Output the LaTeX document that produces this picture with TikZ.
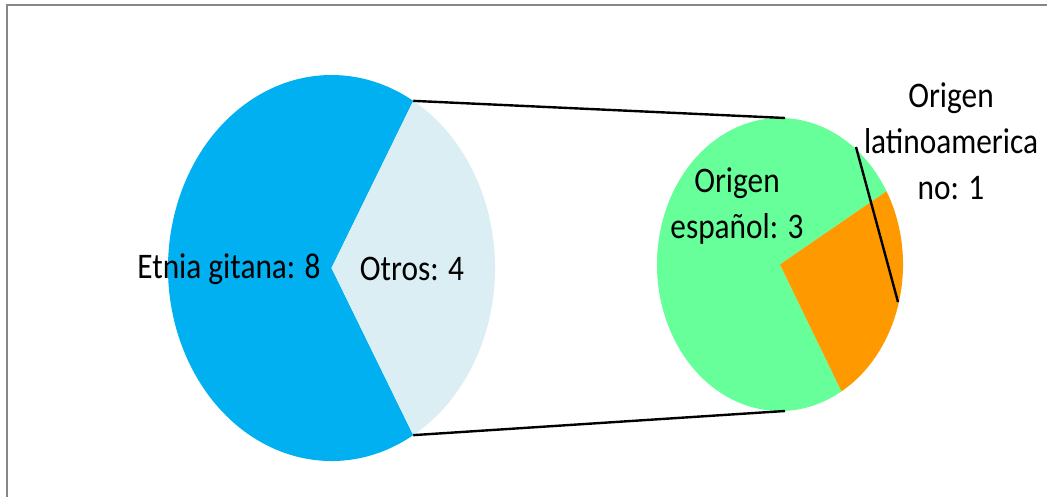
\documentclass[tikz,border=0pt]{standalone}
\usepackage{fontspec}
\setmainfont{Carlito}
\newfontfamily\chartfont[FakeStretch=0.87]{Carlito}
\usetikzlibrary{calc}
\definecolor{pieblue}{HTML}{00B0F0}
\definecolor{pielight}{HTML}{DAEEF3}
\definecolor{piegreen}{HTML}{66FF99}
\definecolor{pieorange}{HTML}{FF9900}
\definecolor{framegray}{HTML}{878787}
\begin{document}
\begin{tikzpicture}[x=1pt,y=-1pt,
  lbl/.style={font=\chartfont\fontsize{36}{46}\selectfont, align=center, inner sep=0pt, text=black},
  conn/.style={draw=black, line width=2.4pt},
  frm/.style={draw=framegray, line width=2pt}]
\useasboundingbox (0,0) rectangle (1047,497);
\clip (0,0) rectangle (1047,497);
\fill[white] (0,0) rectangle (1047,497);
\draw[frm] (6.5,5.5) rectangle (1100,560);
% left pie
\coordinate (L) at (331.5,268);
\coordinate (Ltop) at ($(L)+(-60:163.5 and 193)$);
\coordinate (Lbot) at ($(L)+(60:163.5 and 193)$);
\fill[pieblue] (L) -- (Lbot) arc[start angle=60,end angle=300,x radius=163.5,y radius=193] -- cycle;
\fill[pielight] (L) -- (Ltop) arc[start angle=-60,end angle=60,x radius=163.5,y radius=193] -- cycle;
% right pie
\coordinate (R) at (780,264.5);
\coordinate (Rup) at ($(R)+(-30:123 and 146.5)$);
\coordinate (Rlow) at ($(R)+(60:123 and 146.5)$);
\fill[piegreen] (R) -- (Rlow) arc[start angle=60,end angle=330,x radius=123,y radius=146.5] -- cycle;
\fill[pieorange] (R) -- (Rup) arc[start angle=-30,end angle=60,x radius=123,y radius=146.5] -- cycle;
% connectors
\coordinate (Rtop) at (785,118);
\coordinate (Rbot) at (785,411);
\draw[conn] (Ltop) -- (Rtop);
\draw[conn] (Lbot) -- (Rbot);
% labels
\node[lbl] (gitana) at (229,269) {Etnia gitana: 8};
\node[lbl] (otros) at (412,269) {Otros: 4};
\node[lbl] (espanol) at (737,206) {Origen\\espa\~nol: 3};
\node[lbl] (latino) at (951,141) {Origen\\latinoamerica\\no: 1};
\coordinate (leadA) at (856,147);
\coordinate (leadB) at (898,302);
\draw[conn] (leadA) -- (leadB);
\end{tikzpicture}
\end{document}
